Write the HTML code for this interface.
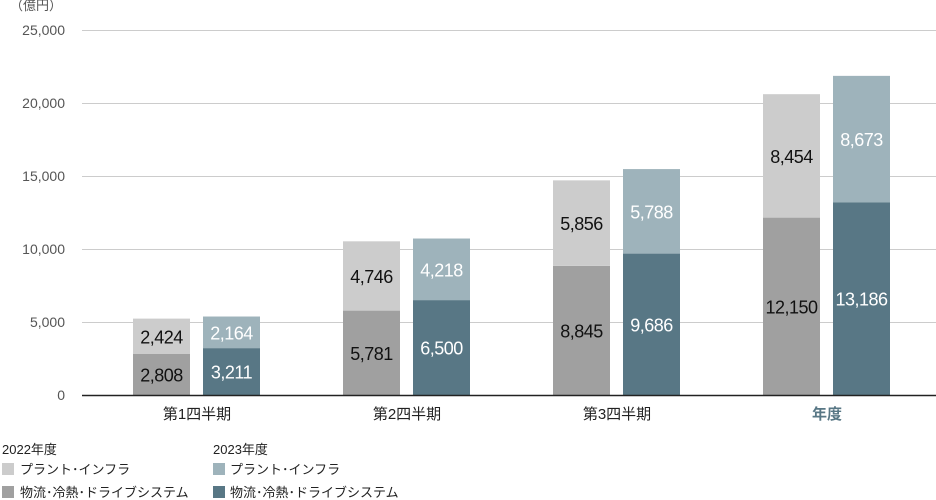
<!DOCTYPE html>
<html><head><meta charset="utf-8"><style>
body{margin:0;background:#fff;font-family:"Liberation Sans","Noto Sans CJK JP",sans-serif;}
svg{display:block}
</style></head><body>
<svg id="c" width="936" height="500" font-family="Liberation Sans, Noto Sans CJK JP, sans-serif">
<text x="10" y="10" font-size="13" fill="#555">（億円）</text>
<g id="grid"></g><g id="bars"></g>
<line x1="82" y1="395.5" x2="936" y2="395.5" stroke="#222" stroke-width="1.5"/>
<g font-size="13" fill="#222">
<text x="2" y="454">2022年度</text>
<rect x="2" y="463" width="12" height="12" fill="#cccccc"/>
<text x="20" y="474">プラント･インフラ</text>
<rect x="2" y="486" width="12" height="12" fill="#a0a0a0"/>
<text x="20" y="497">物流･冷熱･ドライブシステム</text>
<text x="213" y="454">2023年度</text>
<rect x="213" y="463" width="12" height="12" fill="#9eb3bb"/>
<text x="230" y="474">プラント･インフラ</text>
<rect x="213" y="486" width="12" height="12" fill="#587785"/>
<text x="230" y="497">物流･冷熱･ドライブシステム</text>
</g>
</svg>
<script>
const categories=["第1四半期","第2四半期","第3四半期","年度"];
const logistics2022=[2808,5781,8845,12150];
const plant2022=[2424,4746,5856,8454];
const logistics2023=[3211,6500,9686,13186];
const plant2023=[2164,4218,5788,8673];
const yTicks=[0,5000,10000,15000,20000,25000];
const NS="http://www.w3.org/2000/svg";
const y0=395,yTop=30,yMax=25000;
function y(v){return y0-(v/yMax)*(y0-yTop);}
function gx(i){return 197+i*210;}
function el(t,a,p){const e=document.createElementNS(NS,t);for(const k in a)e.setAttribute(k,a[k]);p.appendChild(e);return e;}
const grid=document.getElementById('grid'),bars=document.getElementById('bars'),svg=document.getElementById('c');
yTicks.forEach(v=>{
  if(v>0){const l=el('line',{x1:82,x2:936,y1:y(v)+.5,y2:y(v)+.5,stroke:'#ccc','stroke-width':1},grid);
  
  }
  const t=el('text',{x:65,y:y(v)+5,'text-anchor':'end','font-size':14,fill:'#555'},grid);
  
  
  t.textContent=v.toLocaleString('en-US');
});
function fmt(v){return v.toLocaleString('en-US');}
categories.forEach((c,i)=>{
  const cx=gx(i);
  [[cx-64,logistics2022[i],plant2022[i],'#a0a0a0','#cccccc','#111','#111','2022'],
   [cx+6,logistics2023[i],plant2023[i],'#587785','#9eb3bb','#fff','#fff','2023']].forEach(s=>{
    const [x,a,b,ca,cb,ta,tb,yr]=s;
    const r1=el('rect',{x:x,y:y(a),width:57,height:y0-y(a),fill:ca},bars);
    
    
    const r2=el('rect',{x:x,y:y(a+b),width:57,height:y(a)-y(a+b),fill:cb},bars);
    
    
    const t1=el('text',{x:x+28.5,y:(y(a)+y0)/2+7,'text-anchor':'middle','font-size':18,fill:ta,'letter-spacing':'-0.5'},bars);
    
    
    t1.textContent=fmt(a);
    const t2=el('text',{x:x+28.5,y:(y(a)+y(a+b))/2+7,'text-anchor':'middle','font-size':18,fill:tb,'letter-spacing':'-0.5'},bars);
    
    
    t2.textContent=fmt(b);
  });
  const last=i===categories.length-1;
  const t=el('text',{x:cx,y:419,'text-anchor':'middle','font-size':15,fill:last?'#587785':'#222','font-weight':last?'bold':'normal'},svg);
  
  
  t.textContent=c;
});
</script>
</body></html>
